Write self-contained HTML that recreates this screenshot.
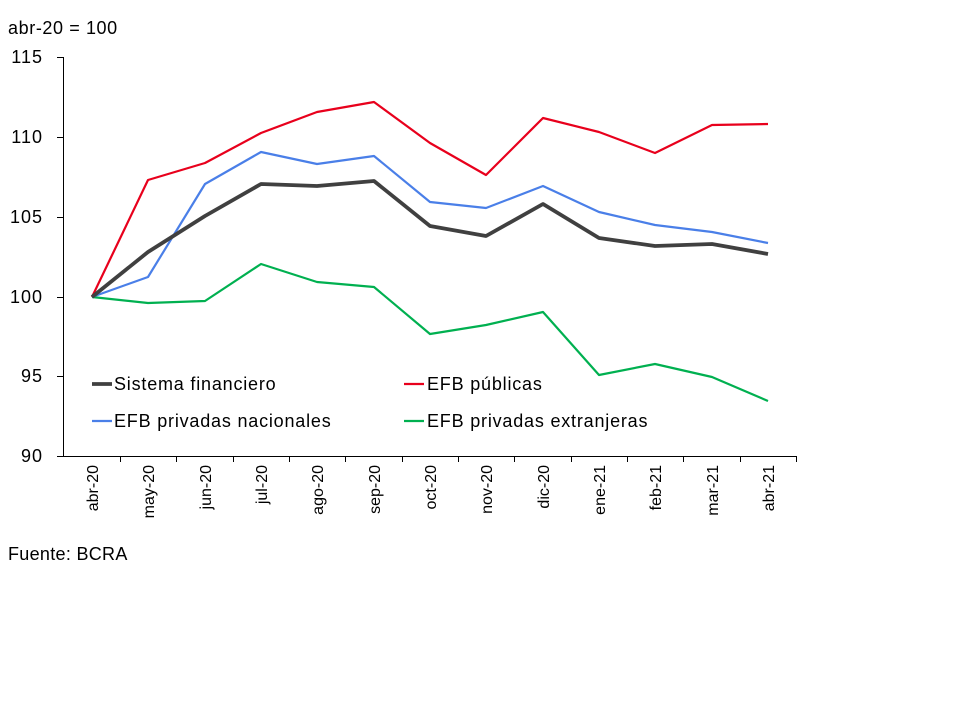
<!DOCTYPE html>
<html><head><meta charset="utf-8"><style>
body{margin:0;background:#fff;}
svg{display:block;font-family:"Liberation Sans",Arial,sans-serif;}
</style></head><body>
<svg width="960" height="720" viewBox="0 0 960 720">
<text x="8" y="34" font-size="18" letter-spacing="0.6" fill="#000">abr-20 = 100</text>
<g font-size="18" letter-spacing="1" fill="#000" text-anchor="end">
<text x="43" y="63">115</text>
<text x="43" y="143">110</text>
<text x="43" y="223">105</text>
<text x="43" y="303">100</text>
<text x="43" y="382">95</text>
<text x="43" y="462">90</text>
</g>
<g stroke="#000" stroke-width="1">
<line x1="63.5" y1="57" x2="63.5" y2="456"/>
<line x1="63" y1="456.5" x2="797" y2="456.5"/>
<line x1="57" y1="57.5" x2="63" y2="57.5"/>
<line x1="57" y1="137.5" x2="63" y2="137.5"/>
<line x1="57" y1="217.5" x2="63" y2="217.5"/>
<line x1="57" y1="297.5" x2="63" y2="297.5"/>
<line x1="57" y1="376.5" x2="63" y2="376.5"/>
<line x1="57" y1="456.5" x2="63" y2="456.5"/>
<path d="M120.5 456v6M176.5 456v6M233.5 456v6M289.5 456v6M345.5 456v6M402.5 456v6M458.5 456v6M514.5 456v6M571.5 456v6M627.5 456v6M683.5 456v6M740.5 456v6M796.5 456v6"/>
</g>
<g font-size="16" fill="#000" text-anchor="end">
<text transform="translate(98,465) rotate(-90)">abr-20</text>
<text transform="translate(154,465) rotate(-90)">may-20</text>
<text transform="translate(211,465) rotate(-90)">jun-20</text>
<text transform="translate(267,465) rotate(-90)">jul-20</text>
<text transform="translate(323,465) rotate(-90)">ago-20</text>
<text transform="translate(380,465) rotate(-90)">sep-20</text>
<text transform="translate(436,465) rotate(-90)">oct-20</text>
<text transform="translate(492,465) rotate(-90)">nov-20</text>
<text transform="translate(549,465) rotate(-90)">dic-20</text>
<text transform="translate(605,465) rotate(-90)">ene-21</text>
<text transform="translate(661,465) rotate(-90)">feb-21</text>
<text transform="translate(718,465) rotate(-90)">mar-21</text>
<text transform="translate(774,465) rotate(-90)">abr-21</text>
</g>
<g fill="none" stroke-linejoin="round">
<polyline stroke="#00b050" stroke-width="2.2" points="92,297 148,303 205,301 261,264 317,282 374,287 430,334 486,325 543,312 599,375 655,364 712,377 768,401"/>
<polyline stroke="#4a7fe8" stroke-width="2.2" points="92,297 148,277 205,184 261,152 317,164 374,156 430,202 486,208 543,186 599,212 655,225 712,232 768,243"/>
<polyline stroke="#e8001c" stroke-width="2.2" points="92,297 148,180 205,163 261,133 317,112 374,102 430,143 486,175 543,118 599,132 655,153 712,125 768,124"/>
<polyline stroke="#404040" stroke-width="3.8" points="92,297 148,252 205,216 261,184 317,186 374,181 430,226 486,236 543,204 599,238 655,246 712,244 768,254"/>
</g>
<line x1="92" y1="384" x2="112" y2="384" stroke="#404040" stroke-width="3.8"/>
<line x1="404" y1="384" x2="424" y2="384" stroke="#e8001c" stroke-width="2.2"/>
<line x1="92" y1="421" x2="112" y2="421" stroke="#4a7fe8" stroke-width="2.2"/>
<line x1="404" y1="421" x2="424" y2="421" stroke="#00b050" stroke-width="2.2"/>
<g font-size="18" letter-spacing="0.8" fill="#000">
<text x="114" y="390">Sistema financiero</text>
<text x="427" y="390">EFB públicas</text>
<text x="114" y="427">EFB privadas nacionales</text>
<text x="427" y="427">EFB privadas extranjeras</text>
</g>
<text x="8" y="560" font-size="18" letter-spacing="0.3" fill="#000">Fuente: BCRA</text>
</svg>
</body></html>
